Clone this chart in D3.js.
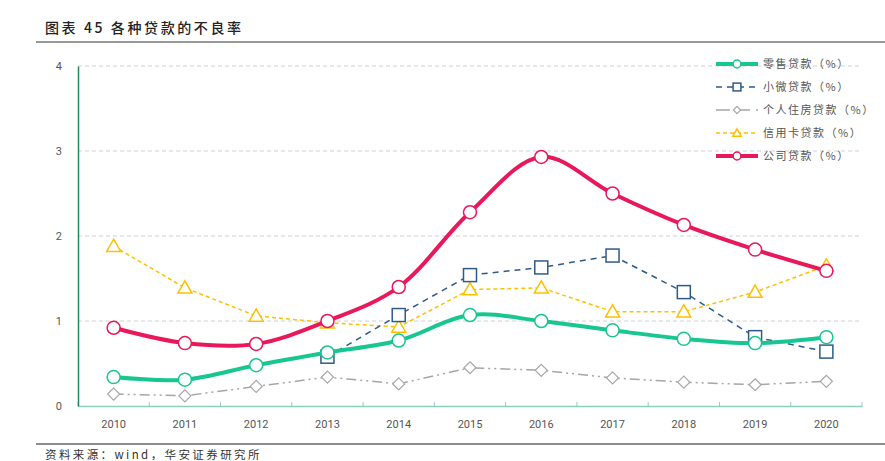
<!DOCTYPE html>
<html>
<head>
<meta charset="utf-8">
<script src="https://cdn.jsdelivr.net/npm/d3@7"></script>
<style>
  body { margin: 0; background: #fff; }
  svg { display: block; }
</style>
</head>
<body>
<svg id="chart" width="885" height="461"></svg>
<script>
'use strict';

const years = ['2010', '2011', '2012', '2013', '2014', '2015', '2016', '2017', '2018', '2019', '2020'];
const retail = [0.34, 0.31, 0.48, 0.63, 0.77, 1.07, 1.00, 0.89, 0.79, 0.74, 0.81];
const micro = [null, null, null, 0.58, 1.07, 1.54, 1.63, 1.77, 1.34, 0.81, 0.64];
const housing = [0.14, 0.12, 0.23, 0.34, 0.26, 0.45, 0.42, 0.33, 0.28, 0.25, 0.29];
const card = [1.88, 1.39, 1.06, 0.98, 0.93, 1.37, 1.39, 1.11, 1.11, 1.34, 1.65];
const corporate = [0.92, 0.74, 0.73, 1.00, 1.40, 2.28, 2.93, 2.50, 2.13, 1.84, 1.59];
const yTicks = [0, 1, 2, 3, 4];

const series = [
    { name: '零售贷款（%）', values: retail, color: '#17c690', width: 4, dash: null, marker: 'circle', smooth: true },
    { name: '小微贷款（%）', values: micro, color: '#2f5b88', width: 1.5, dash: '6,5', marker: 'square', smooth: false },
    { name: '个人住房贷款（%）', values: housing, color: '#a6a6a6', width: 1.5, dash: '10,4,2,4,2,4', marker: 'diamond', smooth: false },
    { name: '信用卡贷款（%）', values: card, color: '#ffc000', width: 1.5, dash: '4,3', marker: 'triangle', smooth: false },
    { name: '公司贷款（%）', values: corporate, color: '#e8185b', width: 4, dash: null, marker: 'circle', smooth: true }
];

const svg = d3.select('#chart');
const margin = { top: 66, right: 23, bottom: 55, left: 78 };
const width = 885, height = 461;

// header
svg.append('text')
    .attr('x', 45).attr('y', 33)
    .attr('font-family', '"Noto Sans CJK SC", sans-serif')
    .attr('font-size', 14).attr('font-weight', 500)
    .attr('letter-spacing', 2.6)
    .attr('fill', '#222')
    .text('图表 45 各种贷款的不良率');
svg.append('line')
    .attr('x1', 36).attr('x2', width).attr('y1', 42).attr('y2', 42)
    .attr('stroke', '#999').attr('stroke-width', 2);

svg.append('line')
    .attr('x1', 36).attr('x2', width).attr('y1', 444).attr('y2', 444)
    .attr('stroke', '#666').attr('stroke-width', 1.5);
svg.append('text')
    .attr('x', 45).attr('y', 459)
    .attr('font-family', '"Noto Sans CJK SC", sans-serif')
    .attr('font-size', 11.5)
    .attr('letter-spacing', 2.4)
    .attr('fill', '#333')
    .text('资料来源：wind，华安证券研究所');

const x = d3.scaleBand()
    .domain(years)
    .range([margin.left, width - margin.right]);

const y = d3.scaleLinear()
    .domain([0, 4])
    .range([height - margin.bottom, margin.top]);

// grid
svg.append('g')
    .selectAll('line')
    .data(yTicks.filter(d => d > 0))
    .join('line')
        .attr('x1', margin.left).attr('x2', width - margin.right)
        .attr('y1', d => y(d)).attr('y2', d => y(d))
        .attr('stroke', '#d0d0d0').attr('stroke-dasharray', '4,3');

// x-axis
const xAxis = svg.append('g')
    .attr('transform', `translate(0, ${y(0)})`)
    .call(d3.axisBottom(x).tickSize(0).tickPadding(14));
xAxis.select('.domain').attr('stroke', '#8fd0bd').attr('stroke-width', 1.5);
xAxis.selectAll('text')
    .attr('font-family', 'Roboto, "Noto Sans", sans-serif')
    .attr('font-size', 11).attr('fill', '#555');
svg.append('g')
    .selectAll('line')
    .data(d3.range(years.length + 1))
    .join('line')
        .attr('x1', i => margin.left + i * x.step()).attr('x2', i => margin.left + i * x.step())
        .attr('y1', y(0)).attr('y2', y(0) - 4)
        .attr('stroke', '#8fd0bd').attr('stroke-width', 1);

// y-axis
const yAxis = svg.append('g')
    .attr('transform', `translate(${margin.left}, 0)`)
    .call(d3.axisLeft(y).tickValues(yTicks).tickSize(0).tickPadding(16).tickFormat(d3.format('d')));
yAxis.select('.domain').attr('stroke', '#1b8a5e').attr('stroke-width', 1.5);
yAxis.selectAll('text')
    .attr('font-family', 'Roboto, "Noto Sans", sans-serif')
    .attr('font-size', 11).attr('fill', '#555');

const cx = (d, i) => x(years[i]) + x.bandwidth() / 2;

function drawMarker(g, type, color, px, py, scale) {
    const s = scale || 1;
    if (type === 'circle') {
        g.append('circle').attr('cx', px).attr('cy', py).attr('r', 6.5 * s)
            .attr('fill', '#fff').attr('stroke', color).attr('stroke-width', 1.5);
    } else if (type === 'square') {
        const h = 6.5 * s;
        g.append('rect').attr('x', px - h).attr('y', py - h).attr('width', 2 * h).attr('height', 2 * h)
            .attr('fill', '#fff').attr('stroke', color).attr('stroke-width', 1.5);
    } else if (type === 'diamond') {
        const h = 6 * s;
        g.append('path').attr('d', `M${px},${py - h}L${px + h},${py}L${px},${py + h}L${px - h},${py}Z`)
            .attr('fill', '#fff').attr('stroke', color).attr('stroke-width', 1.2);
    } else if (type === 'triangle') {
        const h = 7 * s;
        g.append('path').attr('d', `M${px},${py - h}L${px + h},${py + h * 0.75}L${px - h},${py + h * 0.75}Z`)
            .attr('fill', '#fff').attr('stroke', color).attr('stroke-width', 1.5);
    }
}

const drawOrder = [2, 3, 1, 0, 4];
drawOrder.forEach(k => {
    const s = series[k];
    const line = d3.line()
        .defined(d => d !== null)
        .x(cx)
        .y(d => y(d))
        .curve(s.smooth ? d3.curveCatmullRom.alpha(0.5) : d3.curveLinear);
    svg.append('path')
        .datum(s.values)
        .attr('fill', 'none')
        .attr('stroke', s.color)
        .attr('stroke-width', s.width)
        .attr('stroke-dasharray', s.dash)
        .attr('d', line);
    const g = svg.append('g');
    s.values.forEach((v, i) => {
        if (v !== null) drawMarker(g, s.marker, s.color, cx(v, i), y(v));
    });
});

// legend
const legend = svg.append('g').attr('transform', 'translate(716, 64)');
series.forEach((s, i) => {
    const g = legend.append('g').attr('transform', `translate(0, ${i * 23})`);
    g.append('line')
        .attr('x1', 0).attr('x2', 42).attr('y1', 0).attr('y2', 0)
        .attr('stroke', s.color).attr('stroke-width', s.width)
        .attr('stroke-dasharray', s.marker === 'diamond' ? '14,6' : s.dash);
    drawMarker(g, s.marker, s.color, 21, 0, 0.6);
    g.append('text')
        .attr('x', 47).attr('y', 4)
        .attr('font-family', '"Noto Sans CJK SC", sans-serif')
        .attr('font-size', 11).attr('fill', '#555')
        .attr('letter-spacing', 1.5)
        .text(s.name);
});
</script>
</body>
</html>
